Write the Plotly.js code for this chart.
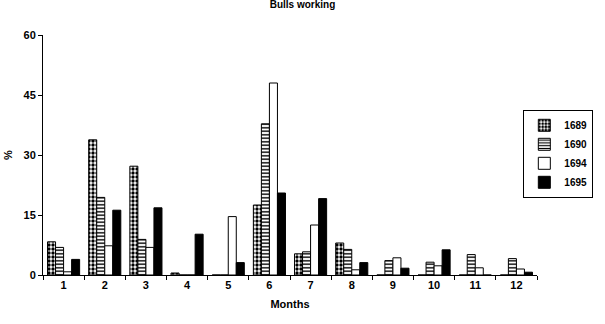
<!DOCTYPE html>
<html>
<head>
<meta charset="utf-8">
<script src="https://cdn.plot.ly/plotly-3.0.1.min.js"></script>
<style>
  html, body { margin: 0; padding: 0; background: #fff; }
  #chart { width: 605px; height: 324px; }
</style>
</head>
<body>
<div id="chart"></div>
<script>
// Monthly share (%) per year
const months = ['1', '2', '3', '4', '5', '6', '7', '8', '9', '10', '11', '12'];
const years = ['1689', '1690', '1694', '1695'];
const y1689 = [8.3, 33.8, 27.2, 0.5, 0, 17.5, 5.3, 8.0, 0, 0, 0, 0];
const y1690 = [6.9, 19.4, 8.9, 0, 0, 37.8, 5.8, 6.4, 3.6, 3.2, 5.1, 4.1];
const y1694 = [0.8, 7.3, 6.9, 0, 14.6, 48.0, 12.5, 1.3, 4.3, 2.3, 1.8, 1.5];
const y1695 = [3.9, 16.2, 16.8, 10.2, 3.1, 20.5, 19.1, 3.1, 1.7, 6.3, 0, 0.7];

const seriesValues = [y1689, y1690, y1694, y1695];
const markers = [
  { color: '#ffffff', line: { color: '#000', width: 1 },
    pattern: { shape: '.', fgcolor: '#000', bgcolor: '#fff', size: 4, solidity: 0.55 } },
  { color: '#ffffff', line: { color: '#000', width: 1 },
    pattern: { shape: '-', fgcolor: '#000', bgcolor: '#fff', size: 3.5, solidity: 0.4 } },
  { color: '#ffffff', line: { color: '#000', width: 1 } },
  { color: '#000000', line: { color: '#000', width: 1 } }
];

const traces = years.map((yr, i) => ({
  type: 'bar',
  name: yr,
  x: months,
  y: seriesValues[i],
  marker: markers[i],
  hoverinfo: 'x+y+name'
}));

const fam = 'Liberation Sans, Arial, sans-serif';

const layout = {
  width: 605,
  height: 324,
  margin: { l: 43, r: 62, t: 35, b: 49 },
  paper_bgcolor: '#fff',
  plot_bgcolor: '#fff',
  font: { family: fam, size: 11, color: '#000' },
  showlegend: true,
  barmode: 'group',
  bargap: 0.22,
  bargroupgap: 0,
  title: {
    text: '<b>Bulls working</b>',
    x: 0.5, xanchor: 'center',
    y: 1, yanchor: 'top',
    pad: { t: 1 },
    font: { family: fam, size: 10, color: '#000' }
  },
  xaxis: {
    type: 'category',
    showline: true, linecolor: '#000', linewidth: 1,
    ticks: 'outside', tickson: 'boundaries', ticklen: 4, tickcolor: '#000',
    tickfont: { family: fam, size: 11, color: '#000', weight: 'bold' },
    showgrid: false, zeroline: false,
    title: { text: '<b>Months</b>', font: { family: fam, size: 11, color: '#000' }, standoff: 10 }
  },
  yaxis: {
    range: [0, 60],
    tickvals: [0, 15, 30, 45, 60],
    showline: true, linecolor: '#000', linewidth: 1,
    ticks: 'outside', ticklen: 4, tickcolor: '#000',
    tickfont: { family: fam, size: 11, color: '#000', weight: 'bold' },
    showgrid: false, zeroline: false,
    title: { text: '<b>%</b>', font: { family: fam, size: 11, color: '#000' }, standoff: 8 }
  },
  legend: {
    x: 1.114, xanchor: 'right',
    y: 0.505, yanchor: 'middle',
    bordercolor: '#000', borderwidth: 1,
    bgcolor: '#fff',
    font: { family: fam, size: 10, color: '#000', weight: 'bold' },
    itemwidth: 30,
    tracegroupgap: 0
  }
};

Plotly.newPlot('chart', traces, layout, { displayModeBar: false, staticPlot: true });
</script>
</body>
</html>
